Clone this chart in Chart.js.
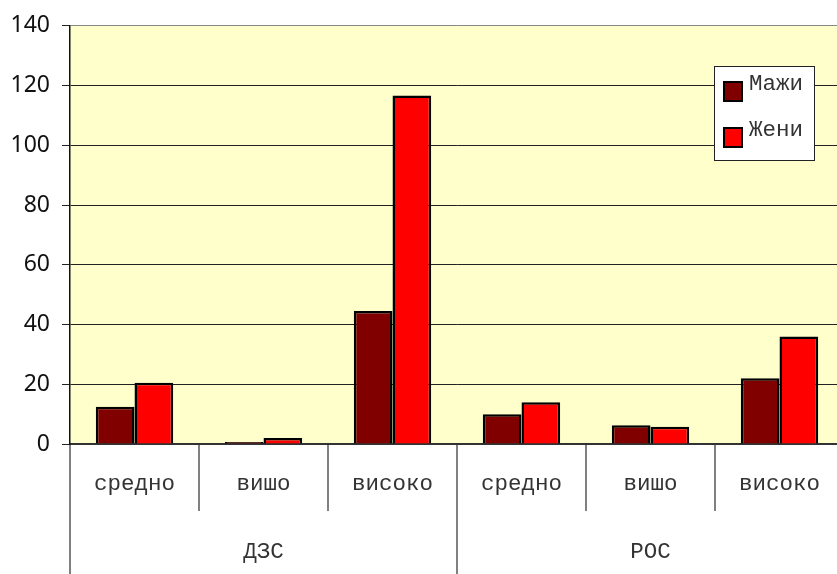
<!DOCTYPE html>
<html><head><meta charset="utf-8">
<script src="https://cdn.jsdelivr.net/npm/chart.js@4.4.1/dist/chart.umd.min.js"></script>
<style>
html,body{margin:0;padding:0;overflow:hidden;background:#fff;width:837px;height:574px}
#wrap{width:844px;height:574px}
</style></head>
<body><div id="wrap"><canvas id="c" width="844" height="574"></canvas></div>
<script>
const categories = ['средно','вишо','високо','средно','вишо','високо'];
const groups = ['ДЗС','РОС'];
const seriesNames = ['Мажи','Жени'];
const maleValues = [12.5, 0.7, 44.5, 10, 6.3, 22];
const femaleValues = [20.5, 2, 116.7, 14, 5.8, 36];
const yMin = 0, yMax = 140, yStep = 20;

const monoFont = {family: "'Liberation Mono', 'Courier New', monospace", size: 22.5};

const bgPlugin = {
  id: 'plotBg',
  beforeDraw(chart) {
    const {ctx, chartArea: a} = chart;
    ctx.save();
    ctx.fillStyle = '#FFFFCC';
    ctx.fillRect(a.left, a.top, a.right - a.left, a.bottom - a.top);
    ctx.restore();
  }
};

const legendPlugin = {
  id: 'boxLegend',
  afterDraw(chart) {
    const ctx = chart.ctx;
    const x = 714.5, y = 66.5, w = 100, h = 94;
    ctx.save();
    ctx.fillStyle = '#fff';
    ctx.fillRect(x, y, w, h);
    ctx.strokeStyle = '#222';
    ctx.lineWidth = 1;
    ctx.strokeRect(x, y, w, h);
    const rows = [82, 128];
    chart.data.datasets.forEach((ds, i) => {
      const ry = rows[i];
      ctx.fillStyle = ds.backgroundColor;
      ctx.fillRect(724, ry, 18, 19);
      ctx.strokeStyle = '#000';
      ctx.lineWidth = 2;
      ctx.strokeRect(724, ry, 18, 19);
      ctx.fillStyle = '#333';
      ctx.font = "22.5px 'Liberation Mono', monospace";
      ctx.textBaseline = 'alphabetic';
      ctx.textAlign = 'left';
      ctx.fillText(ds.label, 749, ry + 8);
    });
    ctx.restore();
  }
};

new Chart(document.getElementById('c'), {
  type: 'bar',
  data: {
    labels: categories,
    datasets: [
      {label: seriesNames[0], data: maleValues, backgroundColor: '#800000', borderColor: '#000', borderWidth: 2.5, categoryPercentage: 0.6, barPercentage: 1},
      {label: seriesNames[1], data: femaleValues, backgroundColor: '#FF0000', borderColor: '#000', borderWidth: 2.5, categoryPercentage: 0.6, barPercentage: 1}
    ]
  },
  options: {
    responsive: false,
    animation: false,
    layout: {padding: {top: 24, left: 0, right: 0, bottom: 0}},
    plugins: {legend: {display: false}, tooltip: {enabled: false}},
    scales: {
      x: {
        type: 'category',
        position: 'bottom',
        offset: true,
        grid: {offset: true, drawOnChartArea: false, drawTicks: true, tickLength: 67, color: '#808080', lineWidth: 2},
        border: {display: true, color: '#333', width: 2},
        ticks: {font: monoFont, color: '#333', padding: -40.5, maxRotation: 0, minRotation: 0, autoSkip: false},
        afterFit(s) { s.height = 67; }
      },
      x2: {
        type: 'category',
        position: 'bottom',
        labels: groups,
        offset: true,
        grid: {offset: true, drawOnChartArea: false, drawTicks: true, tickLength: 63, color: '#808080', lineWidth: 2},
        border: {display: false},
        ticks: {font: monoFont, color: '#333', padding: -35.5, maxRotation: 0, minRotation: 0, autoSkip: false},
        afterFit(s) { s.height = 63; }
      },
      y: {
        min: yMin, max: yMax,
        ticks: {stepSize: yStep, font: {family: "'Noto Sans', 'Open Sans', sans-serif", size: 23}, color: '#111', padding: 12},
        grid: {color: (c) => (c.tick && c.tick.value === yMax ? '#888' : '#222'), lineWidth: 1, tickLength: 8, tickColor: '#222'},
        border: {display: true, color: '#111', width: 1.5},
        afterFit(s) { s.width = 70; }
      }
    }
  },
  plugins: [bgPlugin, legendPlugin]
});
</script>
</body></html>
